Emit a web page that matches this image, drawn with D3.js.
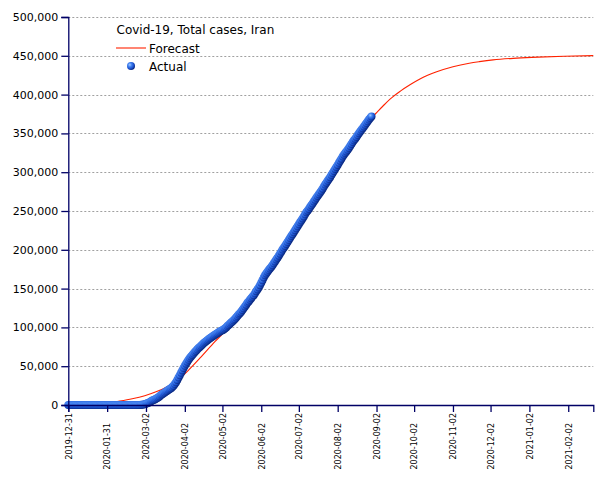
<!DOCTYPE html>
<html>
<head>
<meta charset="utf-8">
<script src="https://cdn.jsdelivr.net/npm/d3@7"></script>
<style>
  html, body { margin: 0; padding: 0; background: #fff; }
  svg { display: block; font-family: "DejaVu Sans", Verdana, sans-serif; }
</style>
</head>
<body>
<svg id="chart" width="605" height="480"></svg>
<script>
// ---------- data ----------
const chartTitle = "Covid-19, Total cases, Iran";
const seriesNames = ["Forecast", "Actual"];

// Actual: daily totals starting 2019-12-31
const actualStart = "2019-12-31";
const actualValues = [
  0,0,0,0,0,0,0,0,0,0, 0,0,0,0,0,0,0,0,0,0, 0,0,0,0,0,0,0,0,0,0,
  0,0,0,0,0,0,0,0,0,0, 0,0,0,0,0,0,0,0,0,0,
  2,5,18,28,43,61,95,139,245,388,593,
  978,1501,2336,2922,3513,4747,5823,6566,7161,8042,9000,10075,11364,12729,13938,14991,16169,17361,18407,19644,20610,21638,23049,24811,27017,29406,32332,35408,38309,41495,44605,
  47593,50468,53183,55743,58226,60500,62589,64586,66220,68192,70029,71686,73303,74877,76389,77995,79494,80868,82211,83505,84802,85996,87026,88194,89328,90481,91472,92584,93657,94640,
  95646,96448,97424,98647,99970,101650,103135,104691,106220,107603,109286,110767,112725,114533,116635,118392,120198,122492,124603,126949,129341,131652,133521,135701,137724,139511,141591,143849,146668,148950,151466,
  154445,157562,160696,164270,167156,169425,171789,173832,175927,177938,180156,182525,184955,187427,189876,192439,195051,197647,200262,202584,204952,207525,209970,212501,215096,217724,220180,222669,225205,227662,
  230211,232863,235429,237878,240438,243051,245688,248379,250458,252720,255117,257303,259652,262173,264561,267061,269440,271606,273788,276202,278827,281413,284034,286523,288839,291172,293606,296273,298909,301530,304204,
  306752,309437,312035,314786,317483,320117,322567,324692,326712,328844,331189,333699,336324,338825,341070,343203,345450,347835,350279,352558,354764,356792,358905,361150,363363,365606,367796,369911,371816
];

// Forecast: values
const forecastDates = [
  "2019-12-31","2020-01-15","2020-01-31","2020-02-10","2020-02-20","2020-03-01","2020-03-10","2020-03-19",
  "2020-03-28","2020-04-05","2020-04-15","2020-04-26","2020-05-06","2020-05-16","2020-05-26","2020-06-05",
  "2020-06-15","2020-06-25","2020-07-05","2020-07-15","2020-07-25","2020-08-04","2020-08-14","2020-08-24",
  "2020-09-01","2020-09-07","2020-09-13","2020-09-21","2020-09-29","2020-10-07","2020-10-20","2020-11-02",
  "2020-11-15","2020-11-23","2020-12-04","2020-12-23","2021-01-09","2021-01-30","2021-02-22"
];
const forecastValues = [
  300,1200,2500,5000,8000,12000,17000,23600,
  33000,45000,62000,81600,98000,116000,138000,166000,
  190000,215000,240000,264000,289000,315000,339500,362000,
  375000,385000,394500,404500,413000,420500,429500,436000,
  440500,442500,444800,447000,448300,449400,450300
];

const xDomain = ["2019-12-31", "2021-02-22"];
const xTickLabels = ["2019-12-31","2020-01-31","2020-03-02","2020-04-02","2020-05-02","2020-06-02","2020-07-02",
  "2020-08-02","2020-09-02","2020-10-02","2020-11-02","2020-12-02","2021-01-02","2021-02-02"];
const yTicks = [0,50000,100000,150000,200000,250000,300000,350000,400000,450000,500000];

// ---------- drawing ----------
const parse = d3.utcParse("%Y-%m-%d");
const svg = d3.select("#chart");
const plotLeft = 68.3, plotRight = 593.3, plotTop = 17, plotBottom = 405;

const x = d3.scaleUtc().domain(xDomain.map(parse)).range([plotLeft, plotRight]);
const y = d3.scaleLinear().domain([0, 500000]).range([plotBottom, plotTop]);

const t0 = parse(actualStart);
const actual = actualValues.map((v, i) => ({ date: d3.utcDay.offset(t0, i), value: v }));
const forecast = forecastDates.map((d, i) => ({ date: parse(d), value: forecastValues[i] }));

// gradient for spheres
const defs = svg.append("defs");
const grad = defs.append("radialGradient").attr("id", "ball")
  .attr("cx", "35%").attr("cy", "35%").attr("r", "65%");
grad.append("stop").attr("offset", "0%").attr("stop-color", "#a8ccff");
grad.append("stop").attr("offset", "35%").attr("stop-color", "#4585f2");
grad.append("stop").attr("offset", "75%").attr("stop-color", "#1a4fcc");
grad.append("stop").attr("offset", "100%").attr("stop-color", "#0c2c86");

// gridlines
svg.append("g").selectAll("line").data(yTicks.filter(d => d > 0)).join("line")
  .attr("x1", plotLeft).attr("x2", plotRight)
  .attr("y1", d => Math.round(y(d)) + 0.5).attr("y2", d => Math.round(y(d)) + 0.5)
  .attr("stroke", "#a0a0a0").attr("stroke-width", 1).attr("stroke-dasharray", "2,2");

// forecast line
svg.append("path").datum(forecast)
  .attr("fill", "none").attr("stroke", "#ff2200").attr("stroke-width", 1.1)
  .attr("d", d3.line().x(d => x(d.date)).y(d => y(d.value)).curve(d3.curveMonotoneX));

// actual markers
svg.append("g").selectAll("circle").data(actual).join("circle")
  .attr("cx", d => x(d.date)).attr("cy", d => y(d.value)).attr("r", 4)
  .attr("fill", "url(#ball)");

// axes
const axisColor = "#000066";
const yAxis = svg.append("g").attr("transform", `translate(${plotLeft},0)`)
  .call(d3.axisLeft(y).tickValues(yTicks).tickSize(7).tickPadding(3).tickFormat(d3.format(",")));
yAxis.selectAll("text").attr("font-size", 11).attr("fill", "#000")
  .attr("font-family", "DejaVu Sans, sans-serif");
yAxis.select(".domain").attr("stroke", axisColor).attr("stroke-width", 1.3);
yAxis.selectAll(".tick line").attr("stroke", axisColor).attr("stroke-width", 1.3);

const xAxis = svg.append("g").attr("transform", `translate(0,${plotBottom})`)
  .call(d3.axisBottom(x).tickValues(xTickLabels.map(parse)).tickSize(7)
    .tickFormat(d3.utcFormat("%Y-%m-%d")));
xAxis.select(".domain").attr("stroke", axisColor).attr("stroke-width", 1.3);
xAxis.selectAll(".tick line").attr("stroke", axisColor).attr("stroke-width", 1.3);
xAxis.selectAll(".tick text")
  .attr("font-size", 8).attr("fill", "#000").attr("font-family", "DejaVu Sans, sans-serif")
  .attr("text-anchor", "end")
  .attr("transform", (d, i) => `translate(0,${i % 2 === 0 ? 8 : 18}) rotate(-90)`)
  .attr("x", 0).attr("y", 0).attr("dy", "0.35em");

// legend
const lg = svg.append("g");
lg.append("text").attr("x", 116.5).attr("y", 34).attr("font-size", 12).attr("fill", "#000").text(chartTitle);
lg.append("line").attr("x1", 116).attr("x2", 146).attr("y1", 48).attr("y2", 48)
  .attr("stroke", "#ff2200").attr("stroke-width", 1.1);
lg.append("text").attr("x", 149).attr("y", 53).attr("font-size", 12).attr("fill", "#000").text(seriesNames[0]);
lg.append("circle").attr("cx", 131).attr("cy", 66).attr("r", 4).attr("fill", "url(#ball)");
lg.append("text").attr("x", 149).attr("y", 71).attr("font-size", 12).attr("fill", "#000").text(seriesNames[1]);
</script>
</body>
</html>
